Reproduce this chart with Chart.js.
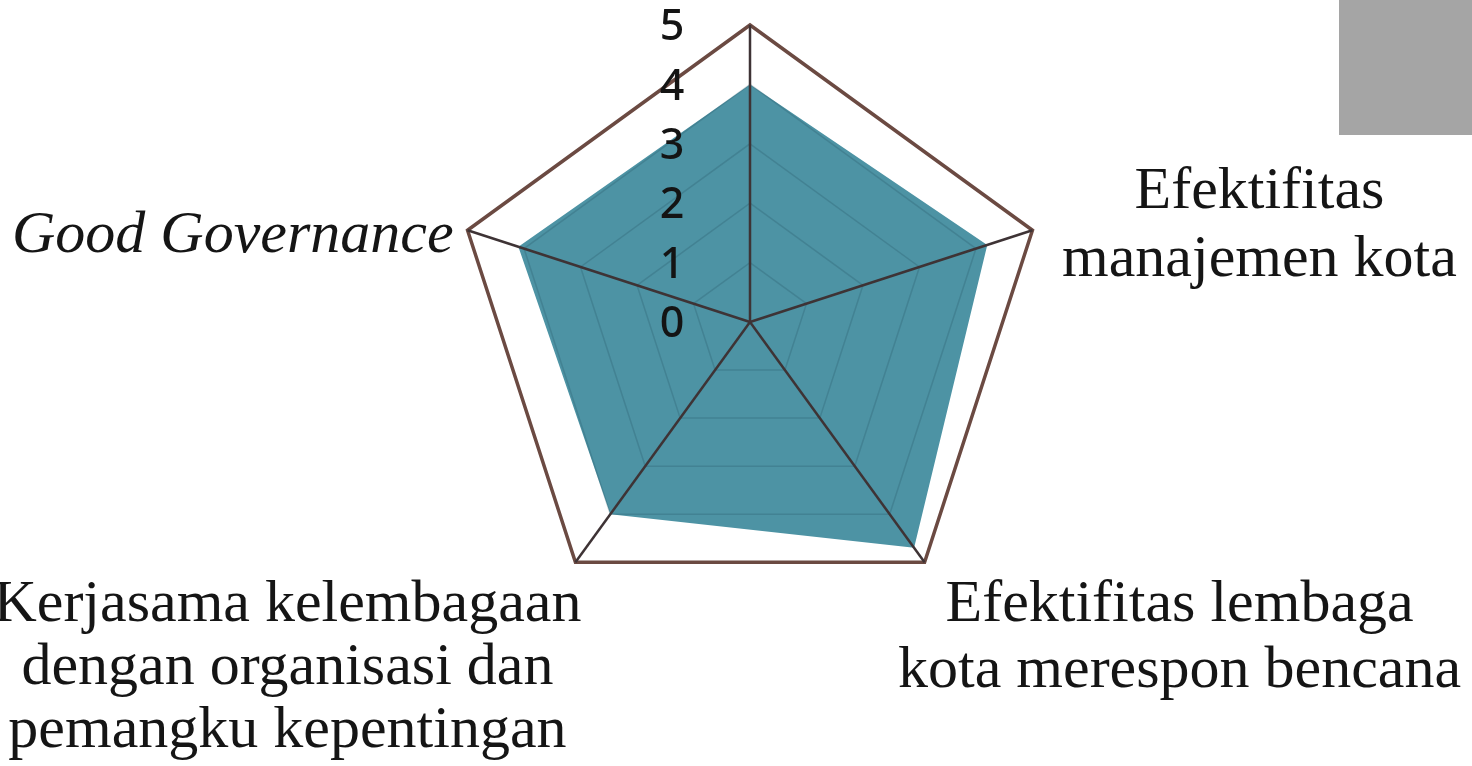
<!DOCTYPE html>
<html lang="id">
    <head>
        <meta charset="UTF-8">
        <title>Radar</title>
        <style>
            body { margin: 0; background: #fff; }
            .chart-container { position: relative; width: 1472px; height: 766px; }
            .legend-key { position: absolute; left: 1339px; top: 0; width: 133px; height: 135px; background: #a5a5a5; }
        </style>
    </head>
    <body>
        <div class="chart-container">
            <canvas id="myChart"></canvas>
            <div class="legend-key"></div>
        </div>
    </body>
    <script src="https://cdn.jsdelivr.net/npm/chart.js@4.4.0/dist/chart.umd.min.js"></script>
    <script>
        // values
        const categories = [
            '',
            ['Efektifitas', 'manajemen kota'],
            ['Efektifitas lembaga', 'kota merespon bencana'],
            ['Kerjasama kelembagaan', 'dengan organisasi dan', 'pemangku kepentingan'],
            'Good Governance'
        ]
        const scores = [4, 4.2, 4.7, 4.0, 4.1]
        const tickValues = [0, 1, 2, 3, 4, 5]

        // where each category text sits relative to the outer vertex
        const labelPlacement = [
            null,
            { dx: 227, dy: -22, align: 'center', lineHeight: 68, italic: false },
            { dx: 255, dy: 59, align: 'center', lineHeight: 66, italic: false },
            { dx: -288, dy: 59, align: 'center', lineHeight: 63, italic: false },
            { dx: -14, dy: 22, align: 'right', lineHeight: 68, italic: true }
        ]

        const radarText = {
            id: 'radarText',
            afterDraw(chart) {
                const ctx = chart.ctx
                const scale = chart.scales.r
                ctx.save()
                ctx.fillStyle = '#151515'
                ctx.textBaseline = 'alphabetic'
                chart.data.labels.forEach((label, i) => {
                    const place = labelPlacement[i]
                    if (!place) return
                    const p = scale.getPointPosition(i, scale.drawingArea)
                    const lines = Array.isArray(label) ? label : [label]
                    ctx.font = (place.italic ? 'italic ' : '') + '60px "Liberation Serif", "Times New Roman", serif'
                    ctx.textAlign = place.align
                    lines.forEach((line, k) => {
                        ctx.fillText(line, p.x + place.dx, p.y + place.dy + k * place.lineHeight)
                    })
                })
                // scale numbers, set left of the vertical axis
                ctx.font = '500 43px "Noto Sans", sans-serif'
                ctx.fillStyle = '#141414'
                ctx.textAlign = 'center'
                ctx.textBaseline = 'middle'
                tickValues.forEach(v => {
                    const p = scale.getPointPositionForValue(0, v)
                    ctx.fillText(String(v), p.x - 78, p.y + 3)
                })
                ctx.restore()
            }
        }

        const ctx = document.getElementById('myChart')

        var radarData = {
            labels: categories,
            datasets: [{
                label: 'Skor',
                data: scores,
                backgroundColor: '#4d93a4',
                borderWidth: 0,
                pointRadius: 0,
                fill: true
            }]
        }

        var chartOptions = {
            responsive: true,
            maintainAspectRatio: false,
            animation: false,
            layout: {
                padding: { left: 453, right: 425, top: 25, bottom: 147 }
            },
            plugins: {
                legend: { display: false },
                tooltip: { enabled: false }
            },
            scales: {
                r: {
                    min: 0,
                    max: 5,
                    ticks: { stepSize: 1, display: false },
                    pointLabels: { display: false },
                    grid: {
                        z: 1,
                        color: c => c.tick && c.tick.value === 5 ? '#6b4a42' : 'rgba(35, 80, 95, 0.25)',
                        lineWidth: c => c.tick && c.tick.value === 5 ? 3.5 : 1.5
                    },
                    angleLines: {
                        color: '#3e3335',
                        lineWidth: 2.5
                    }
                }
            }
        }

        var radarChart = new Chart(ctx, {
            type: 'radar',
            data: radarData,
            options: chartOptions,
            plugins: [radarText]
        })
    </script>
</html>
